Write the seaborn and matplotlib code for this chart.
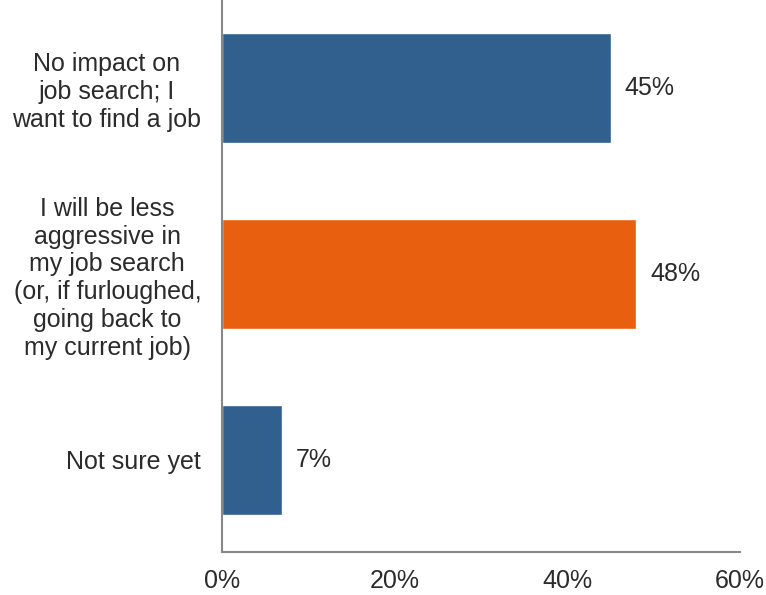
import matplotlib
matplotlib.use("Agg")
import matplotlib.pyplot as plt
import seaborn as sns
import pandas as pd

categories = [
    "No impact on\njob search; I\nwant to find a job",
    "I will be less\naggressive in\nmy job search\n(or, if furloughed,\ngoing back to\nmy current job)",
    "Not sure yet",
]
values = [45, 48, 7]
value_labels = ["45%", "48%", "7%"]
x_ticks = [0, 20, 40, 60]
x_tick_labels = ["0%", "20%", "40%", "60%"]
colors = ["#31608F", "#E8600F", "#31608F"]

sns.set_theme(style="white")
plt.rcParams['font.family'] = ['Liberation Sans', 'DejaVu Sans']

df = pd.DataFrame({"cat": categories, "val": values})

fig = plt.figure(figsize=(7.66, 5.95), dpi=100)
ax = fig.add_axes([222 / 766, 1 - 552 / 595, (740 - 222) / 766, 552 / 595])

sns.barplot(data=df, x="val", y="cat", hue="cat", palette=colors, legend=False,
            orient="h", width=0.59, ax=ax, saturation=1)

ax.set_xlim(0, 60)
ax.set_ylim(2.495, -0.472)
ax.set_xticks(x_ticks)
ax.set_xticklabels(x_tick_labels)
ax.set_xlabel("")
ax.set_ylabel("")

for i, (v, lab) in enumerate(zip(values, value_labels)):
    ax.text(v + 1.6, i, lab, va="center", ha="left", fontsize=18, color="#2b2b2b")

ax.set_yticks(range(len(categories)))
ax.set_yticklabels(categories, fontsize=18, color="#2b2b2b", ha="right",
                   multialignment="center", linespacing=1.2)
ax.tick_params(axis="y", length=0, pad=15)
ax.tick_params(axis="x", direction="out", length=5, width=1.5, color="#888888",
               labelsize=18, labelcolor="#2b2b2b", pad=7)

for s in ["top", "right"]:
    ax.spines[s].set_visible(False)
for s in ["left", "bottom"]:
    ax.spines[s].set_color("#888888")
    ax.spines[s].set_linewidth(1.5)

fig.savefig("out.png", dpi=100)
